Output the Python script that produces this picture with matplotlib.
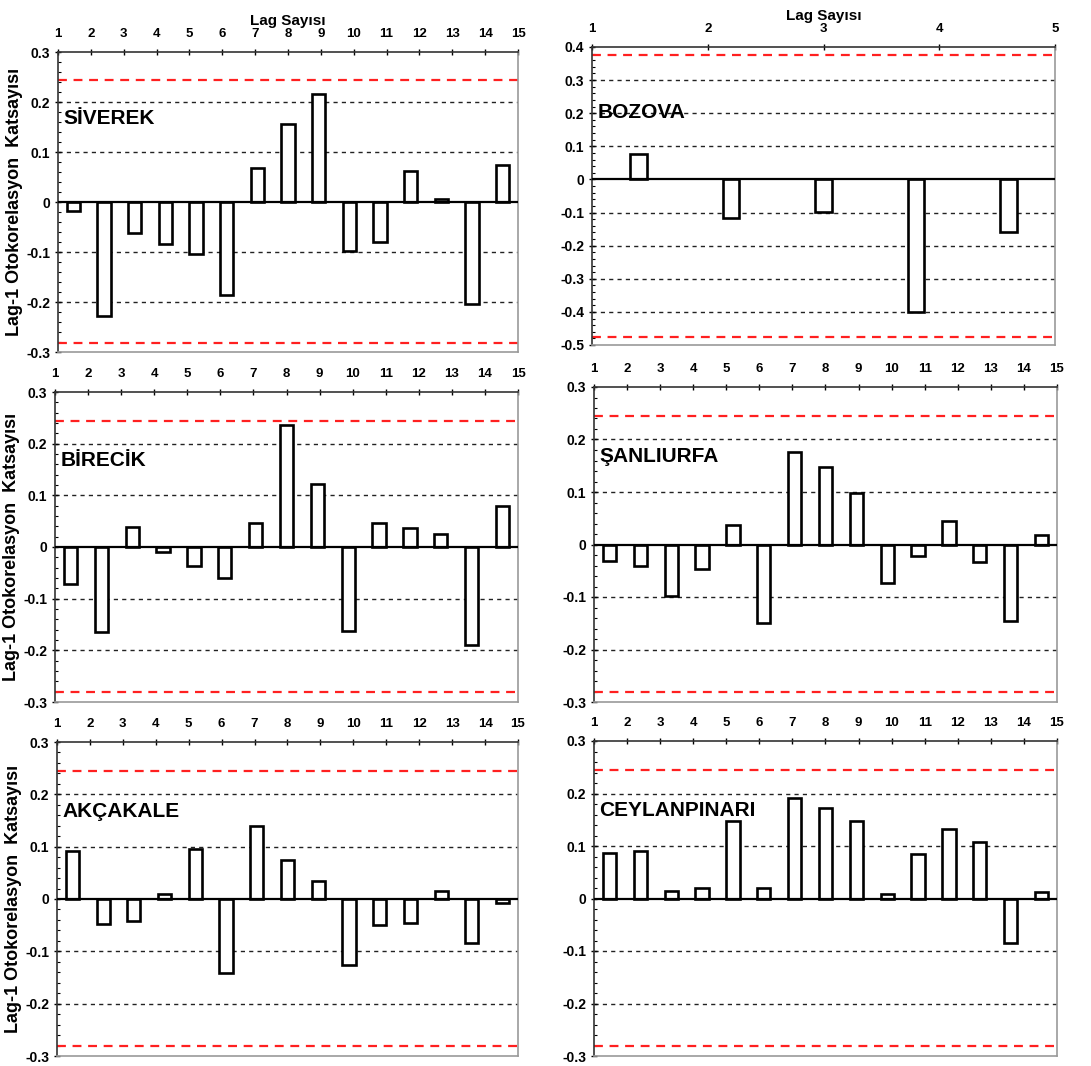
import matplotlib
matplotlib.use("Agg")
import matplotlib.pyplot as plt
from matplotlib.ticker import MultipleLocator, FuncFormatter
import numpy as np

plt.rcParams['font.family'] = ['Liberation Sans Narrow', 'Liberation Sans', 'DejaVu Sans']
plt.rcParams['font.weight'] = 'bold'

stations = ["SİVEREK", "BOZOVA", "BİRECİK", "ŞANLIURFA", "AKÇAKALE", "CEYLANPINARI"]

siverek = [-0.017, -0.227, -0.062, -0.084, -0.104, -0.186, 0.069, 0.157, 0.217,
           -0.097, -0.080, 0.063, 0.007, -0.203, 0.075]
bozova = [0.077, -0.116, -0.097, -0.401, -0.160]
birecik = [-0.071, -0.165, 0.038, -0.009, -0.037, -0.060, 0.046, 0.236, 0.122,
           -0.162, 0.046, 0.037, 0.026, -0.190, 0.080]
sanliurfa = [-0.031, -0.041, -0.099, -0.047, 0.038, -0.149, 0.177, 0.147, 0.099,
             -0.073, -0.022, 0.044, -0.033, -0.145, 0.019]
akcakale = [0.091, -0.047, -0.042, 0.009, 0.096, -0.141, 0.140, 0.074, 0.035,
            -0.127, -0.050, -0.046, 0.016, -0.084, -0.008]
ceylanpinari = [0.086, 0.090, 0.015, 0.020, 0.148, 0.020, 0.191, 0.173, 0.148,
                0.009, 0.084, 0.133, 0.107, -0.084, 0.013]

series = [siverek, bozova, birecik, sanliurfa, akcakale, ceylanpinari]

# confidence limits (upper, lower)
limits_main = (0.244, -0.281)
limits_bozova = (0.377, -0.477)
limits = [limits_main, limits_bozova, limits_main, limits_main, limits_main, limits_main]

ylims = [(-0.3, 0.3), (-0.5, 0.4), (-0.3, 0.3), (-0.3, 0.3), (-0.3, 0.3), (-0.3, 0.3)]

xlabel = "Lag Sayısı"
ylabel = "Lag-1 Otokorelasyon  Katsayısı"

W, H = 1091, 1066
fig = plt.figure(figsize=(W / 100, H / 100), dpi=100)

# pixel boxes: left, top, right, bottom
boxes = [(58, 52, 518, 352), (592, 47, 1055, 345),
         (55, 392, 518, 702), (594, 387, 1057, 702),
         (57, 742, 518, 1056), (594, 741, 1057, 1056)]


def yfmt(v, pos):
    if abs(v) < 1e-9:
        return "0"
    return f"{v:.1f}"


for i, (vals, name, lim, yl, box) in enumerate(zip(series, stations, limits, ylims, boxes)):
    l, t, r, b = box
    ax = fig.add_axes([l / W, 1 - b / H, (r - l) / W, (b - t) / H])
    n = len(vals)
    xmin = 1
    xmax = 15 if n == 15 else 5
    slot = (xmax - xmin) / n
    centers = xmin + (np.arange(n) + 0.5) * slot
    width = 0.4 if n == 15 else 0.145
    ax.bar(centers, vals, width=width, bottom=0, color='white', edgecolor='black',
           linewidth=1.9, zorder=3)
    ax.set_xlim(xmin, xmax)
    ax.set_ylim(*yl)

    # grid lines
    step = 0.1
    for g in np.arange(yl[0] + step, yl[1] - 1e-9, step):
        if abs(g) < 1e-9:
            continue
        ax.axhline(g, color='#222222', lw=1.0, ls=(0, (3, 3)), zorder=1)
    ax.axhline(0, color='black', lw=1.6, zorder=4)
    for lv in lim:
        ax.axhline(lv, color='#ff2020', lw=1.6, ls=(0, (4, 3)), zorder=2)

    ax.xaxis.tick_top()
    ax.set_xticks(np.arange(xmin, xmax + 1))
    ax.set_xticklabels([str(k) for k in range(xmin, xmax + 1)])
    ax.yaxis.set_major_locator(MultipleLocator(0.1))
    ax.yaxis.set_minor_locator(MultipleLocator(0.02))
    ax.yaxis.set_major_formatter(FuncFormatter(yfmt))
    ax.tick_params(axis='x', which='major', direction='inout', length=5, width=1,
                   labelsize=9.5, pad=6, top=True, bottom=False)
    ax.tick_params(axis='y', which='major', direction='inout', length=5, width=1,
                   labelsize=10, pad=3)
    ax.tick_params(axis='y', which='minor', direction='in', length=2.5, width=0.8)
    for lab in ax.get_xticklabels() + ax.get_yticklabels():
        lab.set_fontweight('bold')

    for s in ['top', 'left']:
        ax.spines[s].set_color('#333333')
        ax.spines[s].set_linewidth(1.2)
    for s in ['right', 'bottom']:
        ax.spines[s].set_color('#999999')
        ax.spines[s].set_linewidth(1.2)

    ax.text(0.012, 0.78, name, transform=ax.transAxes, fontsize=15, fontweight='bold',
            ha='left', va='center', zorder=5)

    if i < 2:
        ax.xaxis.set_label_position('top')
        ax.set_xlabel(xlabel, fontsize=11, fontweight='bold', labelpad=2)
    if i % 2 == 0:
        ax.set_ylabel(ylabel, fontsize=13, fontweight='bold')
        ax.yaxis.set_label_coords(-0.075, 0.5)

fig.savefig("out.png", dpi=100)
